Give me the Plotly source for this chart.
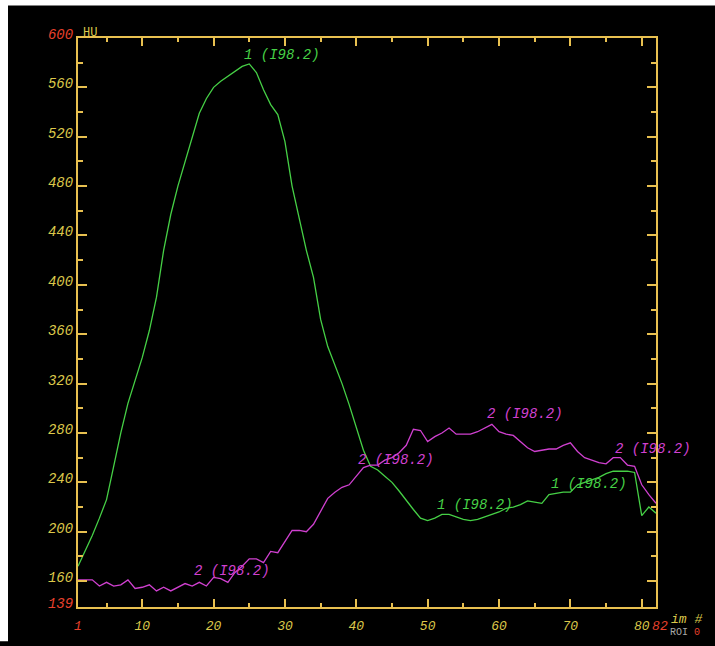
import plotly.graph_objects as go

# ---------------- data ----------------
frames = list(range(1, 83))

roi1_hu = [172, 184, 197, 211, 226, 253, 280, 304, 323, 341,
           363, 390, 428, 457, 480, 499, 519, 539, 551, 560,
           565, 569, 573, 577, 579, 572, 558, 546, 538, 516,
           480, 454, 428, 406, 372, 350, 335, 320, 303, 284,
           266, 253, 250, 245, 240, 233, 225, 218, 211, 209,
           211, 214, 214, 212, 210, 209, 210, 212, 214, 216,
           219, 220, 222, 225, 224, 223, 230, 231, 232, 232,
           238, 240, 242, 244, 247, 249, 249, 249, 248, 213,
           220, 215]

roi2_hu = [161, 161, 161, 156, 159, 156, 157, 161, 154, 155,
           157, 152, 155, 152, 155, 158, 156, 159, 156, 163,
           162, 159, 167, 172, 178, 178, 175, 184, 183, 192,
           201, 201, 200, 206, 216, 227, 232, 236, 238, 245,
           252, 254, 254, 258, 260, 264, 270, 283, 282, 273,
           277, 280, 284, 279, 279, 279, 281, 284, 287, 281,
           279, 278, 273, 268, 265, 266, 267, 267, 270, 272,
           265, 260, 258, 256, 255, 260, 260, 254, 253, 238,
           230, 223]

roi_label = "(I98.2)"
roi1_label_frames = [25, 52, 68]
roi2_label_frames = [18, 41, 59, 77]

y_major = [139, 160, 200, 240, 280, 320, 360, 400, 440, 480, 520, 560, 600]
y_minor = [180, 220, 260, 300, 340, 380, 420, 460, 500, 540, 580]
x_major = [1, 10, 20, 30, 40, 50, 60, 70, 80, 82]
x_minor = [5, 15, 25, 35, 45, 55, 65, 75]

# ---------------- style ----------------
GREEN = "#46d046"
MAGENTA = "#d040d0"
AXIS = "#e8c050"
TICKTXT = "#dcc84a"
RED = "#e8402c"
FONT = "Liberation Mono"

def red(t):
    return f'<span style="color:{RED}">{t}</span>'

y_text = [red(v) if v in (139, 600) else str(v) for v in y_major]
x_text = []
for v in x_major:
    if v == 82:
        x_text.append("\u00a0" + red(v))
    elif v == 1:
        x_text.append(red(v))
    else:
        x_text.append(str(v))

fig = go.Figure()
fig.add_trace(go.Scatter(x=frames, y=roi1_hu, mode="lines",
                         line=dict(color=GREEN, width=1.3), showlegend=False))
fig.add_trace(go.Scatter(x=frames, y=roi2_hu, mode="lines",
                         line=dict(color=MAGENTA, width=1.3), showlegend=False))

annots = []
lab_font = dict(family=FONT, size=14, style="italic")
shifts1 = [9, 9, 9]
for f, ys in zip(roi1_label_frames, shifts1):
    annots.append(dict(x=f, y=roi1_hu[f - 1], text="1 " + roi_label, showarrow=False,
                       xanchor="left", yanchor="middle", xshift=-7, yshift=ys,
                       font=dict(lab_font, color=GREEN)))
shifts2 = [11, 8, 10, 9]
for f, ys in zip(roi2_label_frames, shifts2):
    annots.append(dict(x=f, y=roi2_hu[f - 1], text="2 " + roi_label, showarrow=False,
                       xanchor="left", yanchor="middle", xshift=-7, yshift=ys,
                       font=dict(lab_font, color=MAGENTA)))

# axis unit labels (paper coords, plot area 78..656 x 38..615 px)
annots.append(dict(xref="paper", yref="paper", x=0.005, y=1.008, text="HU",
                   showarrow=False, xanchor="left", yanchor="middle",
                   font=dict(family=FONT, size=12, color=TICKTXT)))
annots.append(dict(xref="paper", yref="paper", x=1.022, y=-0.022, text="im #",
                   showarrow=False, xanchor="left", yanchor="middle",
                   font=dict(family=FONT, size=13, color=TICKTXT, style="italic")))
annots.append(dict(xref="paper", yref="paper", x=1.02, y=-0.0455,
                   text='ROI ' + f'<span style="color:{RED}">0</span>',
                   showarrow=False, xanchor="left", yanchor="middle",
                   font=dict(family=FONT, size=10, color="#a8a8a8")))

fig.update_layout(
    width=715, height=646,
    margin=dict(l=78, r=59, t=38, b=31),
    paper_bgcolor="#000000",
    plot_bgcolor="#000000",
    annotations=annots,
    shapes=[
        dict(type="rect", xref="paper", yref="paper", x0=-0.14, x1=-0.1211,
             y0=-0.06, y1=1.07, fillcolor="white", line=dict(width=0), layer="above"),
        dict(type="rect", xref="paper", yref="paper", x0=-0.14, x1=1.11,
             y0=1.0572, y1=1.07, fillcolor="white", line=dict(width=0), layer="above"),
    ],
)

fig.update_xaxes(
    range=[1, 82], showgrid=False, zeroline=False,
    showline=True, linecolor=AXIS, linewidth=2, mirror="allticks",
    tickmode="array", tickvals=x_major, ticktext=x_text, tickangle=0,
    ticks="inside", ticklen=8, tickwidth=1.5, tickcolor=AXIS,
    ticklabelstandoff=5,
    tickfont=dict(family=FONT, size=13, color=TICKTXT, style="italic"),
    minor=dict(tickmode="array", tickvals=x_minor, ticks="inside", ticklen=4,
               tickwidth=1.5, tickcolor=AXIS, showgrid=False),
)
fig.update_yaxes(
    range=[139, 600], showgrid=False, zeroline=False,
    showline=True, linecolor=AXIS, linewidth=2, mirror="allticks",
    tickmode="array", tickvals=y_major, ticktext=y_text,
    ticks="inside", ticklen=9, tickwidth=1.5, tickcolor=AXIS,
    ticklabelshift=-4, ticklabelstandoff=0,
    tickfont=dict(family=FONT, size=14, color=TICKTXT, style="italic"),
    minor=dict(tickmode="array", tickvals=y_minor, ticks="inside", ticklen=5,
               tickwidth=1.5, tickcolor=AXIS, showgrid=False),
)

fig.write_html("out.html", config={"displayModeBar": False},
               post_script="document.body.style.margin='0px';")
